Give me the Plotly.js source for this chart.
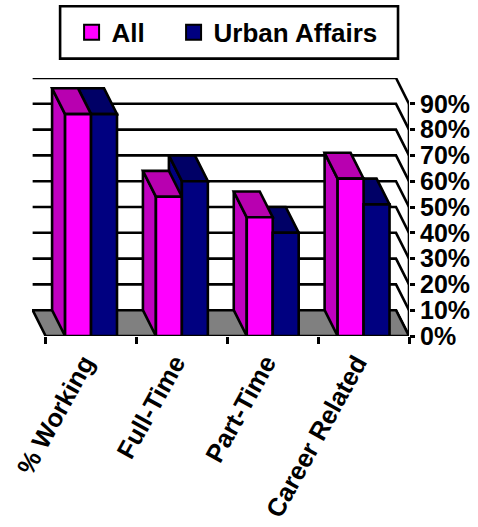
<!DOCTYPE html>
<html>
<head>
<meta charset="utf-8">
<script src="https://cdn.plot.ly/plotly-3.0.1.min.js"></script>
<style>html,body{margin:0;padding:0;background:#fff}#chart{width:478px;height:527px}</style>
</head>
<body>
<div id="chart"></div>
<script>
const categories = ['% Working', 'Full-Time', 'Part-Time', 'Career Related'];
const categoryPos = [0, 1, 2, 3];
const allValues = [86, 54, 46, 61];
const urbanValues = [86, 60, 40, 51];
const valueTicks = [0, 10, 20, 30, 40, 50, 60, 70, 80, 90];
const valueLabels = ['0%', '10%', '20%', '30%', '40%', '50%', '60%', '70%', '80%', '90%'];
const categoryEdges = [-0.5, 0.5, 1.5, 2.5, 3.5];

const BLACK = '#000000';
const LW = 2.6;
const depthX = 0.143, depthY = 10;   // oblique shift of the back plane, in axis units
const barHalf = 0.143;               // one bar width, in category units
const xMin = -0.5, xMax = 3.5;
const FONT = {family: '"Liberation Sans", Arial, sans-serif', size: 26, color: BLACK, weight: 'bold'};
const YFONT = {family: '"Liberation Sans", Arial, sans-serif', size: 25, color: BLACK, weight: 'bold'};
const XFONT = {family: '"Liberation Sans", Arial, sans-serif', size: 25.5, color: BLACK, weight: 'bold'};

function poly(name, color, pts) {
  return {type: 'scatter', mode: 'lines', name: name, showlegend: false, hoverinfo: 'skip',
    x: pts.map(p => p[0]), y: pts.map(p => p[1]), fill: 'toself', fillcolor: color,
    line: {color: BLACK, width: LW}, cliponaxis: false};
}
function lines(name, segs, width) {
  const x = [], y = [];
  segs.forEach(s => { s.forEach(p => { x.push(p[0]); y.push(p[1]); }); x.push(null); y.push(null); });
  return {type: 'scatter', mode: 'lines', name: name, showlegend: false, hoverinfo: 'skip',
    x: x, y: y, line: {color: BLACK, width: width}, cliponaxis: false};
}
function sideFace(x0, v, color) {
  return poly('side', color, [[x0, 0], [x0 - depthX, depthY], [x0 - depthX, v + depthY], [x0, v], [x0, 0]]);
}
function topFace(x0, x1, v, color) {
  return poly('top', color, [[x0, v], [x1, v], [x1 - depthX, v + depthY], [x0 - depthX, v + depthY], [x0, v]]);
}

const traces = [];
// back wall grid, turning forward to the value axis
traces.push(lines('grid', valueTicks.map(v => [[xMin - depthX, v + depthY], [xMax - depthX, v + depthY], [xMax, v]]), LW));
// floor
traces.push(poly('floor', '#808080', [[xMin, 0], [xMax, 0], [xMax - depthX, depthY], [xMin - depthX, depthY], [xMin, 0]]));
// oblique bar faces: rear series first
categoryPos.forEach((c, i) => {
  traces.push(sideFace(c, urbanValues[i], '#000080'));
  traces.push(topFace(c, c + 2 * barHalf, urbanValues[i], '#000066'));
  traces.push(sideFace(c - 2 * barHalf, allValues[i], '#C000C0'));
  traces.push(topFace(c - 2 * barHalf, c, allValues[i], '#B800B0'));
});
// value axis line
traces.push(lines('axis', [[[xMax, 0], [xMax, valueTicks[valueTicks.length - 1]]]], LW));
// front faces
traces.push({type: 'bar', name: 'All', x: categoryPos, y: allValues, yaxis: 'y2', showlegend: false, hoverinfo: 'skip',
  marker: {color: '#FF00FF', line: {color: BLACK, width: LW}}, cliponaxis: false});
traces.push({type: 'bar', name: 'Urban Affairs', x: categoryPos, y: urbanValues, yaxis: 'y2', showlegend: false, hoverinfo: 'skip',
  marker: {color: '#000080', line: {color: BLACK, width: LW}}, cliponaxis: false});
// legend entries
traces.push({type: 'scatter', mode: 'markers', name: 'All', x: [null], y: [null], hoverinfo: 'skip', legendwidth: 57,
  marker: {symbol: 'square', size: 15, color: '#FF00FF', line: {color: BLACK, width: 2}}});
traces.push({type: 'scatter', mode: 'markers', name: 'Urban Affairs', x: [null], y: [null], hoverinfo: 'skip', legendwidth: 180,
  marker: {symbol: 'square', size: 15, color: '#000080', line: {color: BLACK, width: 2}}});

const layout = {
  width: 478, height: 527,
  margin: {l: 31.85, r: 68.5, t: 77.5, b: 190.5, pad: 0, autoexpand: false},
  paper_bgcolor: '#ffffff', plot_bgcolor: 'rgba(0,0,0,0)',
  barmode: 'group', bargap: 0.4286, bargroupgap: 0,
  font: FONT,
  xaxis: {type: 'linear', range: [-0.65, xMax], tickmode: 'array', tickvals: categoryPos, ticktext: categories,
    tickangle: -61, ticks: '', showgrid: false, zeroline: false, showline: false, tickfont: XFONT, ticklabelstandoff: 6, ticklabelshift: -7,
    minor: {tickmode: 'array', tickvals: categoryEdges, ticks: 'outside', ticklen: 7, tickwidth: LW, tickcolor: BLACK, showgrid: false}},
  yaxis: {range: [0, 100], side: 'right', tickmode: 'array', tickvals: valueTicks, ticktext: valueLabels,
    ticks: 'outside', ticklen: 5, tickwidth: LW, tickcolor: BLACK, showgrid: false, zeroline: false, showline: false, tickfont: YFONT},
  yaxis2: {range: [0, 100], overlaying: 'y', side: 'right', visible: false, showgrid: false, zeroline: false},
  legend: {orientation: 'h', x: (71.5 - 31.85) / 377.65, xanchor: 'left', y: 1 + (77.5 - 8) / 259, yanchor: 'top',
    font: FONT, bgcolor: 'rgba(0,0,0,0)', borderwidth: 0, itemsizing: 'trace', entrywidthmode: 'pixels'},
  shapes: [{type: 'rect', xref: 'paper', yref: 'paper', layer: 'below',
    x0: (60 - 31.85) / 377.65, x1: (398.5 - 31.85) / 377.65,
    y0: 1 + (77.5 - 58) / 259, y1: 1 + (77.5 - 5.5) / 259,
    line: {color: BLACK, width: LW}, fillcolor: '#ffffff'}]
};
Plotly.newPlot('chart', traces, layout, {displayModeBar: false, responsive: false});
</script>
</body>
</html>
